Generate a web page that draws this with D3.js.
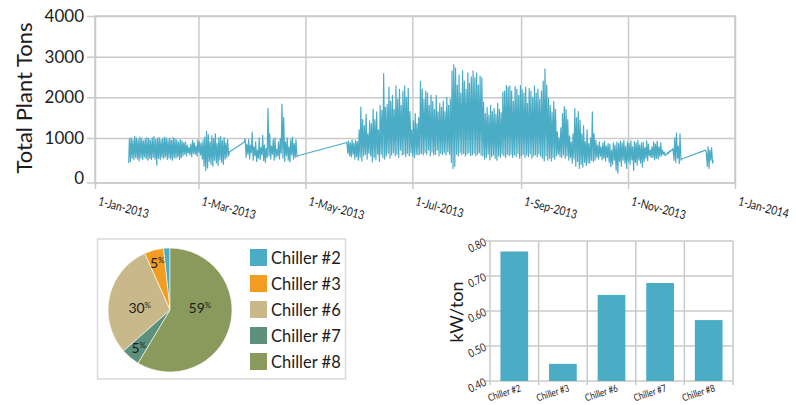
<!DOCTYPE html>
<html>
<head>
<meta charset="utf-8">
<script src="https://cdn.jsdelivr.net/npm/d3@7"></script>
<style>body{margin:0;background:#fff}</style>
</head>
<body>
<script>
// ---- data ----
// daily low / peak plant tons, one entry per day from the segment start
const segStarts = ['2013-01-20', '2013-03-27', '2013-05-24', '2013-12-15'];

const seg1Low = [380,420,500,460,520,480,440,510,470,530,490,450,500,470,520,480,330,500,460,520,490,540,470,510,480,450,520,500,540,470,510,560,
  600,560,630,580,540,620,600,550,640,580,
  480,300,200,260,420,350,300,450,380,320,460,400,350,480,520,560];
const seg1Peak = [980,1010,950,1040,1000,960,1020,990,930,970,1010,980,940,1000,1030,960,990,1010,950,980,1020,1000,960,990,940,1010,980,950,900,960,930,880,
  900,820,760,850,940,880,800,950,900,870,
  950,1020,1160,1080,900,1050,980,1100,860,1000,1030,940,1010,880,960,650];

const seg2Low = [900,520,600,480,640,450,560,420,500,470,580,440,400,520,560,480,600,450,520,560,480,620,500,420,560,450,410,580,480,520,530];
const seg2Peak = [980,850,960,820,1140,780,900,700,1000,760,1060,820,740,1730,1100,800,960,1000,720,900,980,1830,1500,900,1000,780,960,1020,860,950,560];

const seg3Low = [880,620,560,530,600,480,540, 450,520,430, 560,600,480,620,560, 410,520,460,600,420, 600,520,480,
  560,620,500,580,640, 560,600,520,700,580, 600,540,620,560,640, 560,520,600,580, 600,
  620,580,640,600,700,560, 650,580,600,700,560,620,590,640,580,660,600, 400,250,300,
  600,560,640,580,620,550,600,640,570, 580,620,560,600,640,580,
  560,480,520,600,460,540,580,500,450,560,520,600, 560,520,600,
  560,600,520,580,540,620,500,560,600,520,580,540,610,500,560,590,530,600,550,
  500,430,560, 450,500,430,520,480, 560,600,540, 520,580,500,560,
  450,520,380,480,300,420, 250,350,280,400,320,380, 380,450,420,
  450,520,480,550,460,500,430,520, 400,290,350,450,200,130,
  420,300,450,380,250,420,350,460,200,400,330,450,380,280,420,500,440,560,520,
  520,460,500,480,540,560,600, 560,600,620,660,700, 450,400,500,370,450];
const seg3Peak = [900,920,880,950,870,940,910, 1200,1760,1450, 1300,1580,1100,1420,1350, 1700,1450,1640,1200,1800, 1680,2580,1750,
  1820,2250,1900,2050,1700, 2280,1950,2200,1800,2150, 2280,2000,2220,1650,1200, 1420,1600,1350,1500, 2390,
  2200,1950,2150,2100,1800,2050, 1900,1700,2050,1640,1850,1750,1900,1650,2000,1800,1950, 2650,2800,2720,
  2300,2550,2100,2650,2400,2200,2600,2350,2500, 2650,2480,2600,2300,2520,2480,
  1880,1600,1750,1560,1800,1650,1720,1580,1850,1700,1620,2130, 2150,2290,2250,
  2280,2150,1900,2260,2200,2050,2290,2180,2100,2250,1850,2220,2150,2000,2280,2100,2200,1950,2150,
  2400,2700,2300, 1970,1800,1640,1900,1700, 1150,1000,1250, 1600,1770,1700,1450,
  1050,900,1100,1720,1500,1650, 1430,1100,1300,900,1200,860, 1000,1640,1100,
  940,820,900,780,880,920,800,860, 850,700,880,820,900,860,
  920,880,940,800,900,860,930,780,910,880,940,820,870,900,760,930,850,700,780,
  900,850,920,780,880,700,650, 600,640,680,700,740, 1000,1120,800,1100,480];

const seg4Low = [700,300,250,450,380];
const seg4Peak = [650,780,700,760,450];

const tonTicks = [0, 1000, 2000, 3000, 4000];
const monthTicks = ['2013-01-01','2013-03-01','2013-05-01','2013-07-01','2013-09-01','2013-11-01','2014-01-01'];

const chillers = ['Chiller #2', 'Chiller #3', 'Chiller #6', 'Chiller #7', 'Chiller #8'];
const tonShare = [1.7, 5.0, 29.8, 4.9, 58.6];
const kwPerTon = [0.770, 0.449, 0.646, 0.680, 0.574];
const kwTicks = [0.40, 0.50, 0.60, 0.70, 0.80];

const chillerColors = ['#4bacc6', '#f29d22', '#c9b98a', '#5e917b', '#899a5c'];
const lineColor = '#4bacc6';
const gridColor = '#cacaca';
const textColor = '#1c1c1c';
const font = 'Lato, sans-serif';

// squeeze a text horizontally, the reference uses a condensed face
function condense(sel, k) {
  sel.each(function () {
    d3.select(this)
      .attr('textLength', this.getComputedTextLength() * k)
      .attr('lengthAdjust', 'spacingAndGlyphs');
  });
}

const svg = d3.select('body').append('svg')
  .attr('width', 796)
  .attr('height', 405)
  .style('display', 'block');

// ---- top chart: total plant tons ----
const parseDay = d3.timeParse('%Y-%m-%d');
const segments = [
  { start: segStarts[0], low: seg1Low, peak: seg1Peak },
  { start: segStarts[1], low: seg2Low, peak: seg2Peak },
  { start: segStarts[2], low: seg3Low, peak: seg3Peak },
  { start: segStarts[3], low: seg4Low, peak: seg4Peak }
];
const series = [];
segments.forEach(s => {
  const start = parseDay(s.start);
  s.low.forEach((v, i) => {
    const day = d3.timeDay.offset(start, i);
    series.push({ date: d3.timeHour.offset(day, 5), value: v });
    series.push({ date: d3.timeHour.offset(day, 15), value: s.peak[i] });
  });
});

const x = d3.scaleTime()
  .domain([parseDay('2013-01-01'), parseDay('2014-01-01')])
  .range([95, 735]);
const y = d3.scaleLinear().domain([-110, 4000]).range([183, 16]);

const topChart = svg.append('g');

// horizontal grid + y labels
topChart.append('g')
  .attr('transform', 'translate(87,0)')
  .call(d3.axisLeft(y).tickValues(tonTicks).tickSize(-(735 - 87)).tickPadding(3).tickFormat(d3.format('d')))
  .call(g => g.select('.domain').remove())
  .call(g => g.selectAll('line').attr('stroke', gridColor).attr('stroke-width', 1.5).filter(d => d === 0).remove())
  .call(g => g.selectAll('text').attr('font-family', font).attr('font-size', 17).attr('fill', textColor));

// vertical grid + date labels
topChart.append('g')
  .attr('transform', 'translate(0,189)')
  .call(d3.axisBottom(x).tickValues(monthTicks.map(parseDay)).tickSize(-(189 - 16)).tickFormat(d3.timeFormat('%-d-%b-%Y')))
  .call(g => g.select('.domain').remove())
  .call(g => g.selectAll('line').attr('stroke', gridColor).attr('stroke-width', 1.5))
  .call(g => g.selectAll('text')
    .attr('x', 0).attr('y', 0).attr('dy', null)
    .attr('text-anchor', 'start')
    .attr('transform', 'translate(2,16) rotate(15)')
    .attr('font-family', font).attr('font-size', 12.5).attr('fill', textColor)
    .call(condense, 0.82));

// frame
topChart.append('rect')
  .attr('x', 95).attr('y', 16).attr('width', 640).attr('height', 167)
  .attr('fill', 'none').attr('stroke', gridColor).attr('stroke-width', 1.5);
topChart.append('line')
  .attr('x1', 87).attr('x2', 735).attr('y1', 183).attr('y2', 183)
  .attr('stroke', gridColor).attr('stroke-width', 1.5);

topChart.append('path')
  .datum(series)
  .attr('fill', 'none')
  .attr('stroke', lineColor)
  .attr('stroke-width', 1.2)
  .attr('stroke-linejoin', 'round')
  .attr('d', d3.line().x(d => x(d.date)).y(d => y(d.value)));

topChart.append('text')
  .attr('transform', 'translate(32,98) rotate(-90)')
  .attr('text-anchor', 'middle')
  .attr('font-family', font)
  .attr('font-size', 22)
  .attr('fill', textColor)
  .text('Total Plant Tons');

// ---- pie: share of tons ----
const pieBox = svg.append('g');
pieBox.append('rect')
  .attr('x', 97.5).attr('y', 239).attr('width', 248).attr('height', 140)
  .attr('fill', 'none').attr('stroke', '#d9d9d9').attr('stroke-width', 1.5);

const pieR = 62;
const pieG = pieBox.append('g').attr('transform', 'translate(170,310)');
const arcs = d3.pie().sort(null).startAngle(2 * Math.PI).endAngle(0)(tonShare);
const arc = d3.arc().innerRadius(0).outerRadius(pieR);

pieG.selectAll('path')
  .data(arcs)
  .join('path')
  .attr('d', arc)
  .attr('fill', (d, i) => chillerColors[i])
  .attr('stroke', '#ffffff')
  .attr('stroke-width', 0.6);

const labels = pieG.selectAll('text')
  .data(arcs.filter(d => d.data >= 3))
  .join('text')
  .attr('transform', d => {
    const big = Math.abs(d.endAngle - d.startAngle) > 1;
    const r = big ? 31 : 49;
    const c = d3.arc().innerRadius(r).outerRadius(r).centroid(d);
    return `translate(${c[0]},${big ? -3 : c[1]})`;
  })
  .attr('text-anchor', 'middle')
  .attr('dy', '0.35em')
  .attr('font-family', font)
  .attr('fill', textColor);
labels.append('tspan').attr('font-size', 14).text(d => d3.format('.0f')(d.data));
labels.append('tspan').attr('font-size', 8).attr('dy', -5).text('%');

const legend = pieBox.selectAll('g.leg')
  .data(chillers)
  .join('g')
  .attr('class', 'leg')
  .attr('transform', (d, i) => `translate(250,${249 + i * 26})`);
legend.append('rect')
  .attr('width', 17).attr('height', 17)
  .attr('fill', (d, i) => chillerColors[i]);
legend.append('text')
  .attr('x', 21).attr('y', 14.5)
  .attr('font-family', font).attr('font-size', 16.5)
  .attr('fill', textColor)
  .text(d => d);

// ---- bar chart: kW/ton ----
const bars = svg.append('g');
const bx = d3.scaleBand().domain(chillers).range([490, 733]);
const by = d3.scaleLinear().domain([0.4, 0.8]).range([381, 241]);

bars.selectAll('line.h')
  .data(kwTicks)
  .join('line')
  .attr('class', 'h')
  .attr('x1', 485).attr('x2', 733)
  .attr('y1', d => by(d)).attr('y2', d => by(d))
  .attr('stroke', gridColor).attr('stroke-width', 1.5);

bars.selectAll('line.v')
  .data(chillers)
  .join('line')
  .attr('class', 'v')
  .attr('x1', d => bx(d)).attr('x2', d => bx(d))
  .attr('y1', 241).attr('y2', 385)
  .attr('stroke', gridColor).attr('stroke-width', 1.5);
bars.append('line')
  .attr('x1', 733).attr('x2', 733).attr('y1', 241).attr('y2', 385)
  .attr('stroke', gridColor).attr('stroke-width', 1.5);

bars.selectAll('rect')
  .data(chillers)
  .join('rect')
  .attr('x', d => bx(d) + bx.bandwidth() * 0.215)
  .attr('width', bx.bandwidth() * 0.57)
  .attr('y', (d, i) => by(kwPerTon[i]))
  .attr('height', (d, i) => by(0.4) - by(kwPerTon[i]))
  .attr('fill', lineColor);

bars.selectAll('text.yt')
  .data(kwTicks)
  .join('text')
  .attr('class', 'yt')
  .attr('transform', d => `translate(487,${by(d) + 4}) rotate(-25)`)
  .attr('text-anchor', 'end')
  .attr('font-family', font).attr('font-size', 11.5)
  .attr('fill', textColor)
  .text(d => d3.format('.2f')(d))
  .call(condense, 0.8);

bars.selectAll('text.xt')
  .data(chillers)
  .join('text')
  .attr('class', 'xt')
  .attr('transform', d => `translate(${bx(d) + bx.bandwidth() / 2 + 7},391) rotate(-18)`)
  .attr('text-anchor', 'end')
  .attr('font-family', font).attr('font-size', 10)
  .attr('fill', textColor)
  .text(d => d)
  .call(condense, 0.8);

bars.append('text')
  .attr('transform', 'translate(463,312) rotate(-90)')
  .attr('text-anchor', 'middle')
  .attr('font-family', font)
  .attr('font-size', 18)
  .attr('fill', textColor)
  .text('kW/ton');
</script>
</body>
</html>
